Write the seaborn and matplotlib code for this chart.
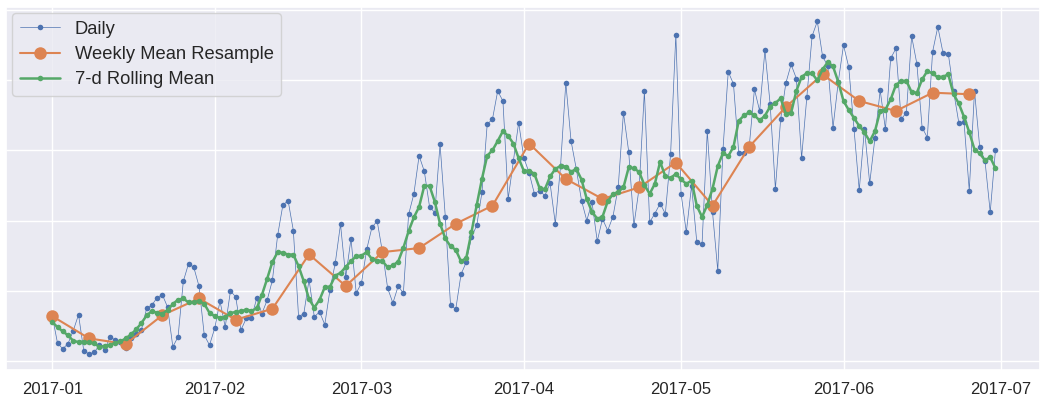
import numpy as np
import pandas as pd
import matplotlib
matplotlib.use("Agg")
import matplotlib.pyplot as plt
import matplotlib.dates as mdates
import seaborn as sns

# ---------------- data (Solar production, GWh) ----------------
start_date = "2017-01-01"

daily_solar = [
    31.9, 12.6, 8.7, 12.4, 21.6, 33.0, 7.4, 5.0, 6.2, 11.3,
    7.8, 17.2, 14.9, 13.5, 9.2, 16.3, 19.1, 22.0, 37.4, 39.7,
    45.2, 47.2, 38.3, 10.1, 17.2, 56.7, 69.3, 66.7, 53.2, 18.4,
    11.3, 23.4, 42.6, 24.3, 49.9, 45.6, 22.0, 30.3, 30.3, 44.7,
    33.8, 43.3, 57.4, 89.4, 111.0, 114.2, 92.9, 31.4, 33.8, 57.9,
    31.4, 35.0, 25.9, 50.9, 69.7, 97.4, 59.8, 87.0, 48.4, 55.5,
    79.4, 95.2, 99.6, 77.7, 51.8, 41.3, 53.2, 48.4, 104.3, 118.9,
    146.1, 135.0, 109.6, 105.7, 154.3, 102.8, 39.7, 36.9, 61.7, 70.4,
    88.2, 96.5, 120.1, 168.6, 172.1, 192.2, 185.1, 115.4, 142.6, 169.7,
    144.5, 134.0, 119.1, 121.3, 117.7, 126.5, 97.7, 139.0, 198.1, 156.7,
    136.7, 114.2, 100.0, 113.0, 85.3, 101.2, 92.9, 102.8, 123.6, 176.8,
    149.1, 96.5, 123.4, 192.2, 98.8, 105.0, 112.1, 104.8, 147.3, 232.4,
    119.1, 91.7, 124.8, 84.6, 83.0, 163.8, 106.0, 64.3, 150.9, 205.9,
    197.2, 148.2, 148.2, 152.5, 193.4, 178.0, 221.1, 182.8, 122.5, 172.1,
    197.9, 211.1, 201.1, 144.5, 187.7, 231.2, 241.8, 217.0, 209.9, 166.2,
    198.8, 224.8, 209.2, 165.0, 121.6, 165.2, 126.5, 158.9, 192.7, 165.0,
    215.4, 222.5, 172.1, 176.8, 231.2, 211.6, 166.2, 159.1, 220.1, 237.9,
    219.1, 218.7, 192.2, 169.7, 170.2, 121.3, 192.2, 152.0, 142.6, 105.9,
    150.4,
]

# days just outside the plotted range, only used for the centred 7-day window
dec_tail = [48.2, 53.2, 27.7]
jul_head = [135.5, 136.9, 136.9]

weekly_mean = [
    31.9, 16.1, 12.1, 32.6, 44.5, 29.4, 37.2, 75.9, 53.4, 77.5,
    80.4, 97.7, 110.6, 154.8, 129.6, 115.4, 123.6, 141.3, 110.6, 152.5,
    180.9, 204.0, 185.1, 178.0, 191.0, 189.9,
]

month_ticks = ["2017-01", "2017-02", "2017-03", "2017-04",
               "2017-05", "2017-06", "2017-07"]

# ---------------- frames ----------------
daily_dates = pd.date_range(start_date, periods=len(daily_solar), freq="D")
weekly_dates = pd.date_range(start_date, periods=len(weekly_mean), freq="W-SUN")

padded = pd.Series(dec_tail + daily_solar + jul_head)
rolling = padded.rolling(7, center=True).mean().iloc[len(dec_tail):len(dec_tail) + len(daily_solar)]

df_daily = pd.DataFrame({"date": daily_dates, "Solar": daily_solar})
df_week = pd.DataFrame({"date": weekly_dates, "Solar": weekly_mean})
df_roll = pd.DataFrame({"date": daily_dates, "Solar": rolling.values})

# ---------------- plot ----------------
sns.set_theme(style="darkgrid")
plt.rcParams["font.family"] = ["Liberation Sans", "DejaVu Sans"]

blue, orange, green = sns.color_palette("deep")[:3]

fig = plt.figure(figsize=(10.4, 4.03), dpi=100)
ax = fig.add_axes([6 / 1040, 33 / 403, 1034 / 1040, 363 / 403])

sns.lineplot(data=df_daily, x="date", y="Solar", ax=ax, estimator=None,
             color=blue, marker=".", markersize=8, markeredgewidth=0,
             linewidth=0.5, label="Daily")
sns.lineplot(data=df_week, x="date", y="Solar", ax=ax, estimator=None,
             color=orange, marker="o", markersize=9, markeredgewidth=0,
             linewidth=1.5, label="Weekly Mean Resample")
sns.lineplot(data=df_roll, x="date", y="Solar", ax=ax, estimator=None,
             color=green, marker=".", markersize=8, markeredgewidth=0,
             linewidth=1.8, label="7-d Rolling Mean")

t0 = mdates.date2num(pd.Timestamp(start_date))
ax.set_xlim(t0 - 8.84, t0 + 188.5)
ax.set_ylim(-6.4, 252)
ax.set_yticks(np.arange(0, 251, 50))
ax.set_yticklabels([])
ax.set_xticks([mdates.date2num(pd.Timestamp(m + "-01")) for m in month_ticks])
ax.set_xticklabels(month_ticks)
ax.tick_params(axis="x", labelsize=12, pad=3, colors="#262626")
ax.tick_params(axis="y", length=0)
ax.set_xlabel("")
ax.set_ylabel("")

leg = ax.legend(loc="upper left", fontsize=13.2, bbox_to_anchor=(0.0, 1.0),
                borderaxespad=0.35, handlelength=2.2, labelspacing=0.45,
                borderpad=0.4)

fig.savefig("out.png", dpi=100)
